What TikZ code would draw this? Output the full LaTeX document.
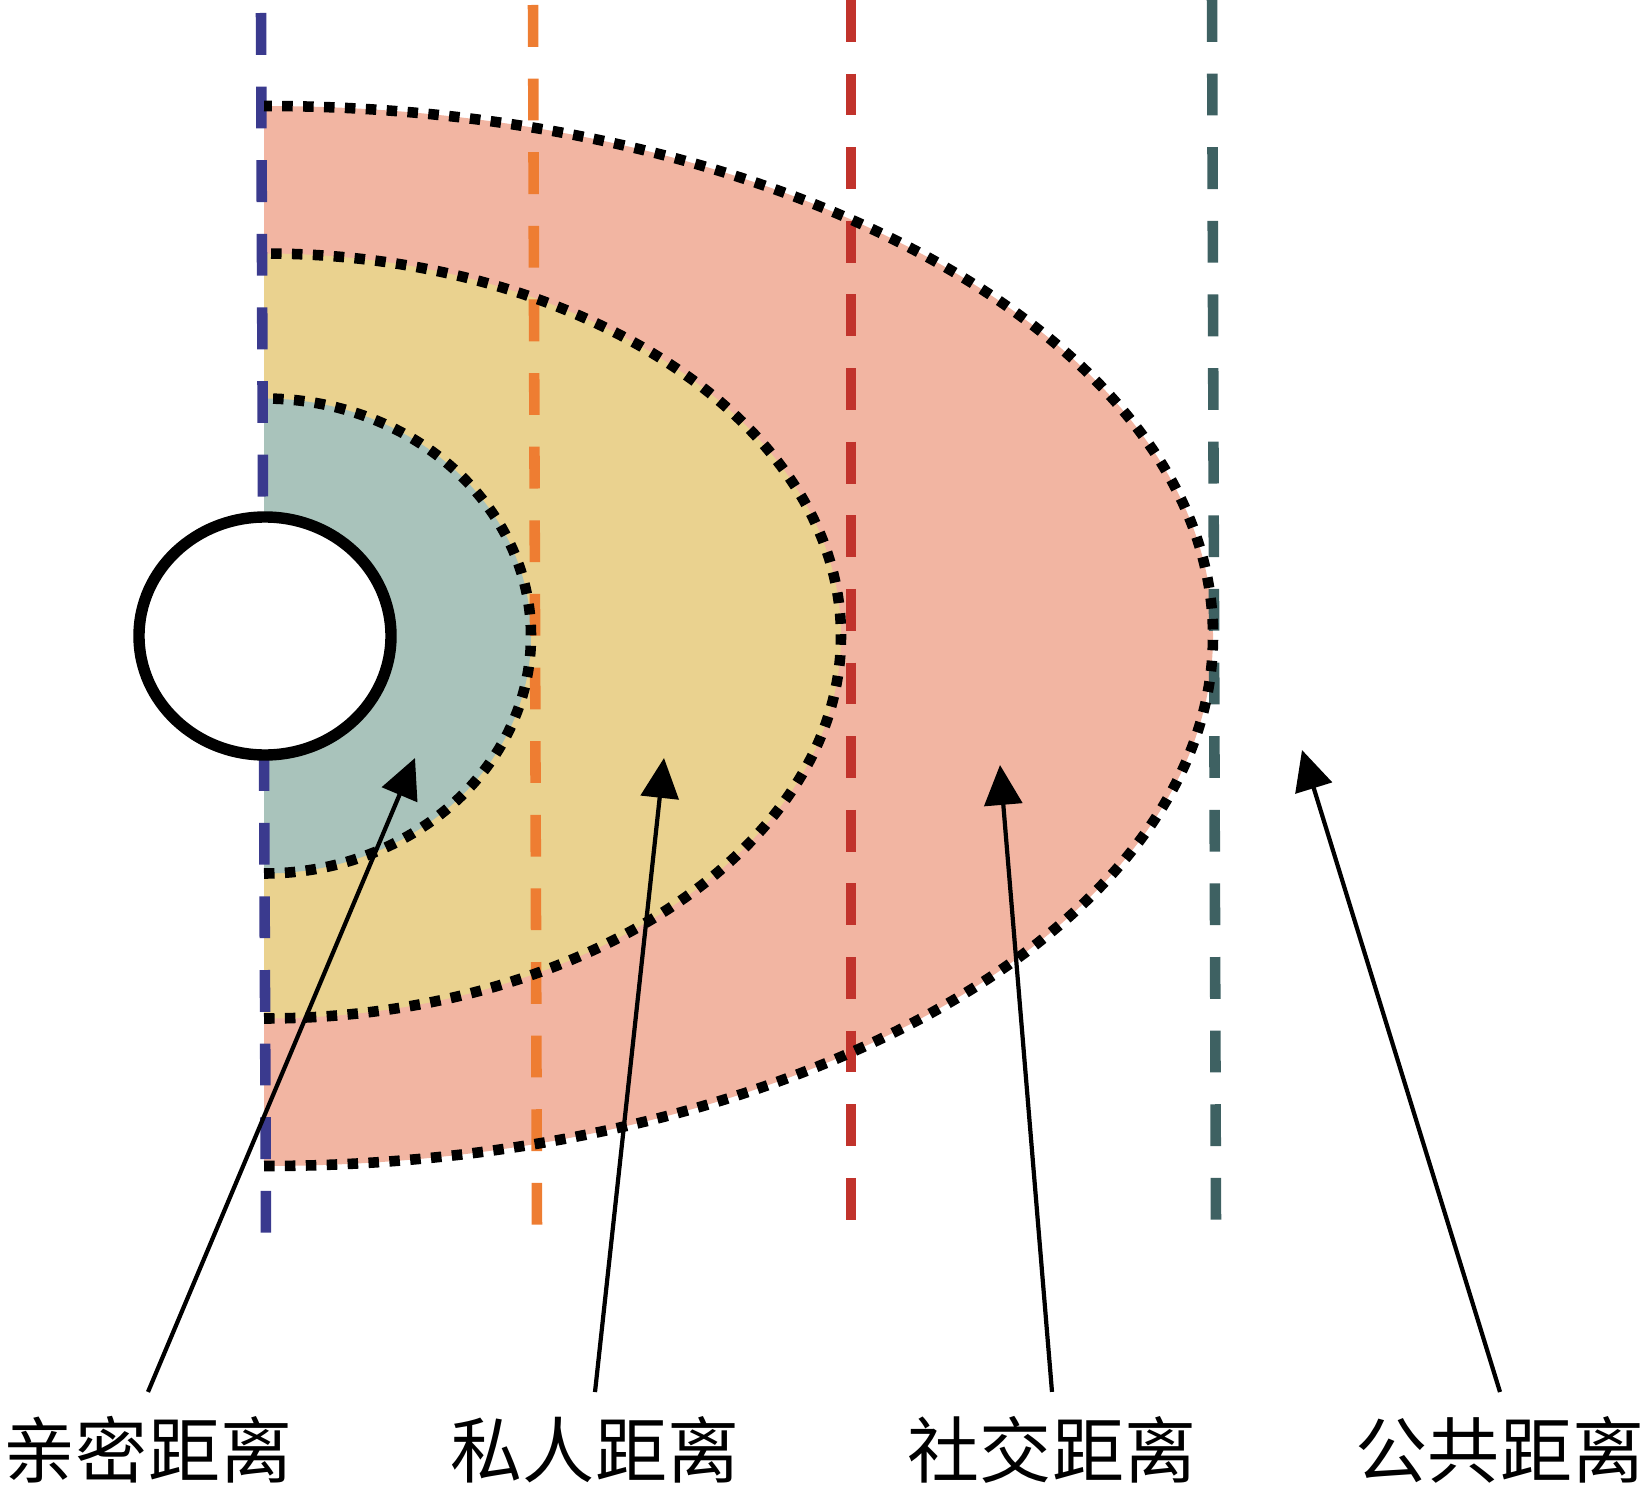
\documentclass[tikz,border=0pt]{standalone}
\usepackage{fontspec}
\newfontfamily\cjk{Noto Sans CJK SC}
\usepackage{xcolor}
\usetikzlibrary{arrows.meta}

\definecolor{salmon}{HTML}{F2B5A2}
\definecolor{sand}{HTML}{EAD28F}
\definecolor{sage}{HTML}{A9C3BB}
\definecolor{intimline}{HTML}{3A3A8E}
\definecolor{personline}{HTML}{EE7D32}
\definecolor{socialline}{HTML}{C1332C}
\definecolor{publicline}{HTML}{3E6162}

\begin{document}
\begin{tikzpicture}[x=0.02cm, y=-0.02cm,
    guide/.style={line width=6pt, dash pattern=on 23.8pt off 18.1pt},
    rim/.style={line width=6pt, dash pattern=on 6pt off 5.9pt},
    pointer/.style={line width=2.4pt, -{Triangle[length=22.7pt, width=21.5pt]}},
    zonetext/.style={font=\cjk\fontsize{41}{41}\selectfont, inner sep=0pt, outer sep=14pt}]

      \useasboundingbox (0,0) rectangle (1649,1493);

      % zones
      \foreach \rx/\ry/\col in {949/530/salmon, 577/382.5/sand, 267/237.5/sage}
      \fill[\col] (264,636) ++(0,\ry) arc[start angle=90, end angle=-90, x radius=\rx, y radius=\ry] -- cycle;

      % distance lines
      \draw[guide, intimline] (261,13) -- (266,1239);
      \draw[guide, personline] (533,5) -- (537,1231);
      \draw[guide, socialline] (851,0) -- (851,1226);
      \draw[guide, publicline] (1212,0) -- (1216,1226);

      \foreach \rx/\ry in {949/530, 577/382.5, 267/237.5}
      \draw[rim] (264,636) ++(0,\ry) arc[start angle=90, end angle=-90, x radius=\rx, y radius=\ry];

      % the person
      \draw[line width=6.5pt, fill=white] (265,636) ellipse [x radius=126, y radius=119];

      \node[zonetext] (intimate) at (148,1450) {亲密距离};
      \node[zonetext] (personal) at (595,1450) {私人距离};
      \node[zonetext] (social) at (1052,1450) {社交距离};
      \node[zonetext] (public) at (1500,1450) {公共距离};

      \coordinate (intimatetip) at (415,758);
      \coordinate (personaltip) at (664,758);
      \coordinate (socialtip) at (1000,765);
      \coordinate (publictip) at (1302,750);

      \draw[pointer] (intimate.north) -- (intimatetip);
      \draw[pointer] (personal.north) -- (personaltip);
      \draw[pointer] (social.north) -- (socialtip);
      \draw[pointer] (public.north) -- (publictip);
    \end{tikzpicture}
\end{document}
